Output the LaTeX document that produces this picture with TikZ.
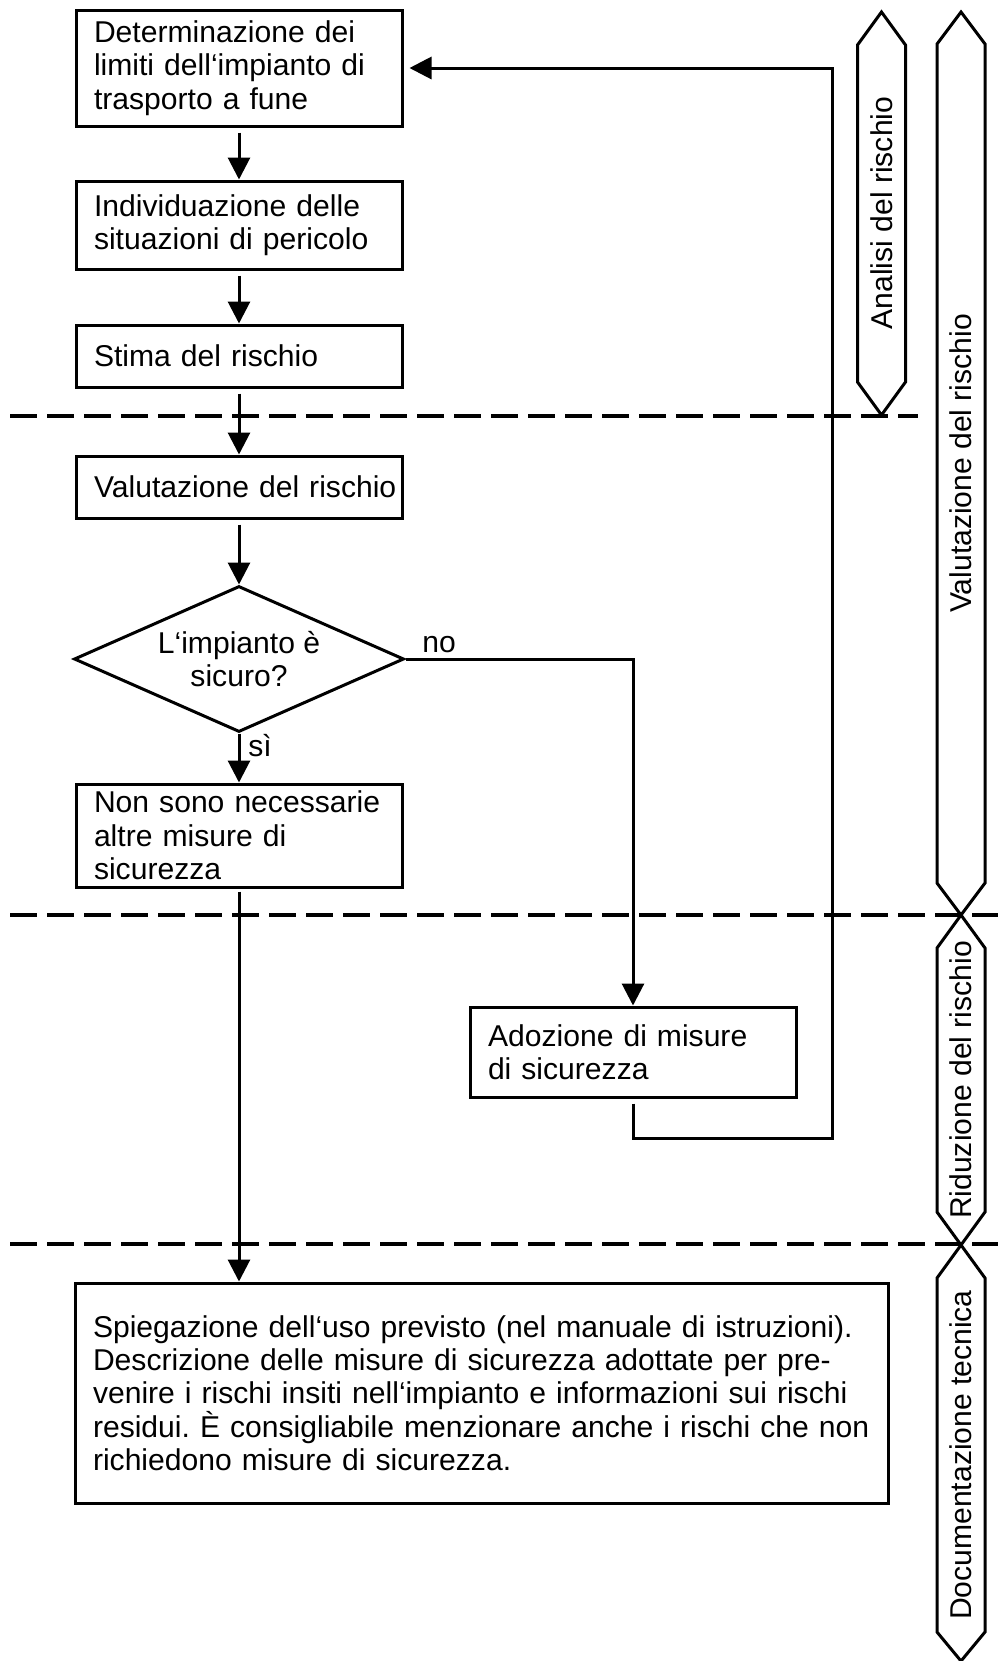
\documentclass[tikz,border=0pt]{standalone}
\usepackage{fontspec}
\setmainfont{Liberation Sans}
\usetikzlibrary{arrows.meta, shapes.geometric}
\frenchspacing
\begin{document}
\begin{tikzpicture}[x=0.5pt, y=-0.5pt,
  every node/.style={font=\fontsize{15.05pt}{16.65pt}\selectfont},
  box/.style={draw, line width=1.5pt, rectangle, inner xsep=9pt, inner ysep=0pt, text width=145pt, align=left},
  dia/.style={draw, line width=1.5pt, diamond, aspect=2.26, inner sep=0pt, minimum width=165pt, minimum height=73pt, align=center},
  arr/.style={line width=1.5pt, -{Triangle[length=11pt, width=11pt]}},
  sep/.style={line width=1.75pt, dash pattern=on 13.5pt off 5pt},
  hex/.style={draw, line width=1.5pt, line join=miter},
  lbl/.style={inner sep=0pt},
]
\useasboundingbox (0,0) rectangle (998,1661);

% separators
\coordinate (s1a) at (10,416);  \coordinate (s1b) at (918,416);
\coordinate (s2a) at (10,915);  \coordinate (s2b) at (998,915);
\coordinate (s3a) at (10,1244); \coordinate (s3b) at (998,1244);
\draw[sep] (s1a) -- (s1b);
\draw[sep] (s2a) -- (s2b);
\draw[sep] (s3a) -- (s3b);

% main column
\node[box, minimum height=58pt] (b1) at (239,68) {Determinazione dei\\limiti dell‘impianto di\\trasporto a fune};
\node[box, minimum height=44pt] (b2) at (239,225) {Individuazione delle\\situazioni di pericolo};
\node[box, minimum height=31pt] (b3) at (239,356) {Stima del rischio};
\node[box, minimum height=31pt] (b4) at (239,487) {\mbox{Valutazione del rischio}};
\node[dia] (d) at (239,659) {L‘impianto è\\sicuro?};
\node[box, minimum height=51.5pt] (b5) at (239,835.5) {Non sono necessarie\\altre misure di\\sicurezza};
\node[box, minimum height=45pt] (ado) at (633,1052) {Adozione di misure\\di sicurezza};
\node[box, text width=388.5pt, minimum height=110pt] (doc) at (481.5,1393) {\mbox{Spiegazione dell‘uso previsto (nel manuale di istruzioni).}\\\mbox{Descrizione delle misure di sicurezza adottate per pre-}\\\mbox{venire i rischi insiti nell‘impianto e informazioni sui rischi}\\\mbox{residui. È consigliabile menzionare anche i rischi che non}\\\mbox{richiedono misure di sicurezza.}};

% labels
\node[lbl, anchor=base west] (no) at (422,652) {no};
\node[lbl, anchor=base west] (si) at (248,756) {sì};

% connectors
\draw[arr, shorten <=2.5pt] (b1) -- (b2);
\draw[arr, shorten <=2.5pt] (b2) -- (b3);
\draw[arr, shorten <=2.5pt] (b3) -- (b4);
\draw[arr, shorten <=2.5pt] (b4) -- (d);
\draw[arr] (d) -- (b5);
\draw[arr] (d.east) -| (ado.north);
\coordinate (r1) at (832,1138);
\coordinate (r2) at (832,68);
\draw[arr, shorten <=2.5pt, shorten >=3pt] (ado.south) |- (r1) -- (r2) -- (b1.east);
\draw[arr, shorten <=1.5pt] (b5.south) -- (b5.south |- doc.north);

% phase markers
\draw[hex] (881.5,12) -- (905.5,45) -- (905.5,382) -- (881.5,415) -- (857.5,382) -- (857.5,45) -- cycle;
\node[rotate=90] (tA) at (881.5,213) {Analisi del rischio};
\draw[hex] (961,12) -- (985,44) -- (985,883) -- (961,915) -- (937,883) -- (937,44) -- cycle;
\node[rotate=90] (tV) at (961,463.5) {Valutazione del rischio};
\draw[hex] (961,915) -- (985,948) -- (985,1212) -- (961,1245) -- (937,1212) -- (937,948) -- cycle;
\node[rotate=90] (tR) at (961,1080) {Riduzione del rischio};
\draw[hex] (961,1245) -- (985,1278) -- (985,1632) -- (961,1661) -- (937,1632) -- (937,1278) -- cycle;
\node[rotate=90] (tD) at (961,1455) {Documentazione tecnica};
\end{tikzpicture}
\end{document}
